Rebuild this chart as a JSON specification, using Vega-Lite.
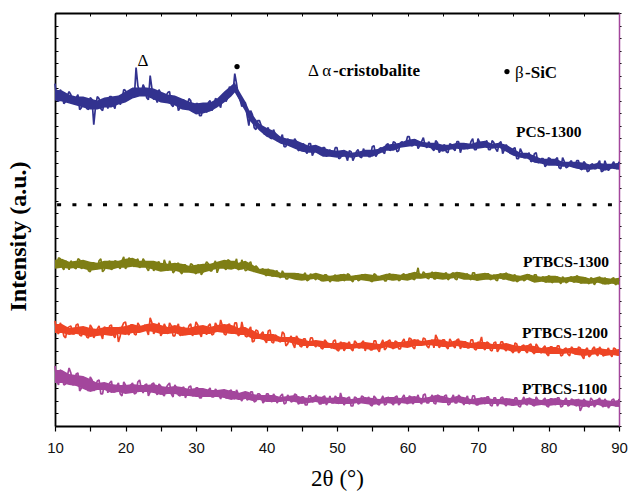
{
"$schema": "https://vega.github.io/schema/vega-lite/v6.json",
"width": 564, "height": 413,
"autosize": {"type": "none"},
"padding": {"left": 55, "top": 13, "right": 10, "bottom": 67},
"background": "white",
"config": {"view": {"stroke": null}, "axis": {"grid": false}},
"datasets": {
"xrd": [
{"x":10,"a":342,"b":159,"c":105,"d":60},{"x":10.5,"a":324,"b":168,"c":92,"d":41},{"x":11,"a":332,"b":159,"c":99,"d":54},{"x":11.5,"a":324,"b":165,"c":88,"d":42},{"x":12,"a":334,"b":156,"c":99,"d":58},{"x":12.5,"a":323,"b":162,"c":92,"d":41},{"x":13,"a":328,"b":157,"c":101,"d":52},{"x":13.5,"a":316,"b":166,"c":91,"d":35},{"x":14,"a":325,"b":159,"c":96,"d":49},{"x":14.5,"a":317,"b":163,"c":89,"d":38},
{"x":15,"a":328,"b":154,"c":101,"d":49},{"x":15.5,"a":301,"b":163,"c":88,"d":35},{"x":16,"a":329,"b":157,"c":97,"d":45},{"x":16.5,"a":317,"b":167,"c":92,"d":32},{"x":17,"a":323,"b":156,"c":99,"d":42},{"x":17.5,"a":317,"b":163,"c":91,"d":33},{"x":18,"a":329,"b":156,"c":101,"d":45},{"x":18.5,"a":317,"b":165,"c":88,"d":34},{"x":19,"a":329,"b":159,"c":84,"d":43},{"x":19.5,"a":326,"b":165,"c":99,"d":30},
{"x":20,"a":335,"b":157,"c":104,"d":41},{"x":20.5,"a":326,"b":168,"c":91,"d":34},{"x":21,"a":336,"b":161,"c":101,"d":43},{"x":21.5,"a":358,"b":165,"c":91,"d":33},{"x":22,"a":333,"b":158,"c":100,"d":46},{"x":22.5,"a":341,"b":167,"c":96,"d":33},{"x":23,"a":328,"b":158,"c":96,"d":42},{"x":23.5,"a":350,"b":161,"c":108,"d":34},{"x":24,"a":326,"b":155,"c":92,"d":43},{"x":24.5,"a":323,"b":163,"c":99,"d":31},
{"x":25,"a":332,"b":156,"c":90,"d":40},{"x":25.5,"a":327,"b":166,"c":102,"d":30},{"x":26,"a":333,"b":155,"c":92,"d":41},{"x":26.5,"a":321,"b":160,"c":100,"d":32},{"x":27,"a":328,"b":155,"c":90,"d":41},{"x":27.5,"a":315,"b":163,"c":102,"d":31},{"x":28,"a":324,"b":152,"c":94,"d":38},{"x":28.5,"a":318,"b":161,"c":91,"d":28},{"x":29,"a":327,"b":155,"c":100,"d":39},{"x":29.5,"a":314,"b":161,"c":90,"d":30},
{"x":30,"a":322,"b":152,"c":104,"d":38},{"x":30.5,"a":310,"b":160,"c":93,"d":28},{"x":31,"a":318,"b":154,"c":98,"d":36},{"x":31.5,"a":313,"b":164,"c":91,"d":31},{"x":32,"a":325,"b":155,"c":102,"d":38},{"x":32.5,"a":318,"b":161,"c":92,"d":29},{"x":33,"a":326,"b":153,"c":100,"d":35},{"x":33.5,"a":318,"b":163,"c":106,"d":27},{"x":34,"a":331,"b":158,"c":92,"d":36},{"x":34.5,"a":328,"b":166,"c":101,"d":28},
{"x":35,"a":336,"b":158,"c":94,"d":36},{"x":35.5,"a":352,"b":162,"c":103,"d":27},{"x":36,"a":330,"b":156,"c":90,"d":32},{"x":36.5,"a":319,"b":166,"c":104,"d":25},{"x":37,"a":323,"b":155,"c":90,"d":34},{"x":37.5,"a":300,"b":162,"c":96,"d":27},{"x":38,"a":311,"b":157,"c":84,"d":34},{"x":38.5,"a":296,"b":160,"c":96,"d":25},{"x":39,"a":305,"b":153,"c":88,"d":32},{"x":39.5,"a":294,"b":157,"c":94,"d":23},
{"x":40,"a":296,"b":150,"c":83,"d":32},{"x":40.5,"a":288,"b":154,"c":96,"d":26},{"x":41,"a":296,"b":150,"c":83,"d":32},{"x":41.5,"a":285,"b":155,"c":89,"d":23},{"x":42,"a":287,"b":148,"c":84,"d":30},{"x":42.5,"a":279,"b":152,"c":92,"d":22},{"x":43,"a":287,"b":147,"c":82,"d":31},{"x":43.5,"a":280,"b":152,"c":90,"d":24},{"x":44,"a":287,"b":148,"c":78,"d":32},{"x":44.5,"a":275,"b":152,"c":87,"d":22},
{"x":45,"a":281,"b":147,"c":79,"d":29},{"x":45.5,"a":275,"b":153,"c":87,"d":21},{"x":46,"a":282,"b":146,"c":81,"d":30},{"x":46.5,"a":270,"b":150,"c":88,"d":24},{"x":47,"a":278,"b":146,"c":79,"d":31},{"x":47.5,"a":273,"b":150,"c":84,"d":22},{"x":48,"a":278,"b":146,"c":77,"d":29},{"x":48.5,"a":269,"b":151,"c":84,"d":21},{"x":49,"a":276,"b":144,"c":79,"d":30},{"x":49.5,"a":271,"b":149,"c":85,"d":23},
{"x":50,"a":278,"b":146,"c":76,"d":28},{"x":50.5,"a":268,"b":151,"c":84,"d":33},{"x":51,"a":274,"b":145,"c":75,"d":21},{"x":51.5,"a":265,"b":152,"c":82,"d":28},{"x":52,"a":274,"b":146,"c":77,"d":20},{"x":52.5,"a":269,"b":149,"c":85,"d":29},{"x":53,"a":276,"b":145,"c":78,"d":22},{"x":53.5,"a":268,"b":151,"c":83,"d":30},{"x":54,"a":273,"b":146,"c":75,"d":23},{"x":54.5,"a":269,"b":150,"c":82,"d":29},
{"x":55,"a":279,"b":144,"c":76,"d":20},{"x":55.5,"a":269,"b":151,"c":85,"d":28},{"x":56,"a":277,"b":147,"c":74,"d":21},{"x":56.5,"a":274,"b":150,"c":86,"d":30},{"x":57,"a":281,"b":145,"c":78,"d":22},{"x":57.5,"a":275,"b":152,"c":86,"d":27},{"x":58,"a":284,"b":147,"c":77,"d":21},{"x":58.5,"a":274,"b":150,"c":84,"d":30},{"x":59,"a":283,"b":146,"c":77,"d":23},{"x":59.5,"a":280,"b":152,"c":87,"d":31},
{"x":60,"a":289,"b":147,"c":80,"d":22},{"x":60.5,"a":280,"b":151,"c":87,"d":29},{"x":61,"a":286,"b":146,"c":77,"d":24},{"x":61.5,"a":277,"b":158,"c":86,"d":31},{"x":62,"a":284,"b":149,"c":81,"d":22},{"x":62.5,"a":280,"b":152,"c":87,"d":32},{"x":63,"a":284,"b":147,"c":78,"d":23},{"x":63.5,"a":277,"b":154,"c":86,"d":31},{"x":64,"a":285,"b":147,"c":91,"d":22},{"x":64.5,"a":273,"b":151,"c":78,"d":30},
{"x":65,"a":280,"b":148,"c":86,"d":25},{"x":65.5,"a":274,"b":153,"c":79,"d":31},{"x":66,"a":282,"b":148,"c":87,"d":22},{"x":66.5,"a":277,"b":153,"c":80,"d":31},{"x":67,"a":284,"b":146,"c":86,"d":23},{"x":67.5,"a":273,"b":152,"c":77,"d":29},{"x":68,"a":281,"b":149,"c":84,"d":21},{"x":68.5,"a":277,"b":152,"c":78,"d":30},{"x":69,"a":284,"b":146,"c":86,"d":23},{"x":69.5,"a":276,"b":153,"c":77,"d":30},
{"x":70,"a":287,"b":146,"c":84,"d":21},{"x":70.5,"a":279,"b":150,"c":89,"d":28},{"x":71,"a":283,"b":147,"c":76,"d":22},{"x":71.5,"a":276,"b":152,"c":83,"d":29},{"x":72,"a":285,"b":148,"c":75,"d":20},{"x":72.5,"a":277,"b":146,"c":84,"d":28},{"x":73,"a":282,"b":151,"c":77,"d":23},{"x":73.5,"a":272,"b":147,"c":84,"d":29},{"x":74,"a":281,"b":153,"c":75,"d":20},{"x":74.5,"a":273,"b":148,"c":81,"d":27},
{"x":75,"a":277,"b":150,"c":73,"d":21},{"x":75.5,"a":267,"b":144,"c":82,"d":28},{"x":76,"a":277,"b":149,"c":75,"d":19},{"x":76.5,"a":268,"b":145,"c":81,"d":29},{"x":77,"a":270,"b":151,"c":73,"d":21},{"x":77.5,"a":264,"b":146,"c":82,"d":27},{"x":78,"a":272,"b":151,"c":72,"d":20},{"x":78.5,"a":263,"b":145,"c":79,"d":26},{"x":79,"a":267,"b":148,"c":73,"d":22},{"x":79.5,"a":259,"b":144,"c":80,"d":28},
{"x":80,"a":268,"b":150,"c":70,"d":19},{"x":80.5,"a":262,"b":143,"c":79,"d":27},{"x":81,"a":266,"b":148,"c":73,"d":21},{"x":81.5,"a":258,"b":145,"c":80,"d":28},{"x":82,"a":268,"b":149,"c":71,"d":20},{"x":82.5,"a":258,"b":143,"c":78,"d":28},{"x":83,"a":263,"b":148,"c":70,"d":21},{"x":83.5,"a":259,"b":144,"c":77,"d":26},{"x":84,"a":265,"b":150,"c":72,"d":20},{"x":84.5,"a":257,"b":143,"c":78,"d":15},
{"x":85,"a":264,"b":147,"c":67,"d":27},{"x":85.5,"a":254,"b":144,"c":78,"d":20},{"x":86,"a":261,"b":148,"c":71,"d":28},{"x":86.5,"a":257,"b":141,"c":79,"d":19},{"x":87,"a":262,"b":147,"c":70,"d":26},{"x":87.5,"a":254,"b":144,"c":76,"d":21},{"x":88,"a":265,"b":148,"c":71,"d":27},{"x":88.5,"a":255,"b":142,"c":78,"d":18},{"x":89,"a":261,"b":147,"c":69,"d":26},{"x":89.5,"a":258,"b":141,"c":77,"d":20},
{"x":90,"a":264,"b":146,"c":72,"d":27},
{"x":10.25,"a":327,"b":159,"c":94,"d":45},{"x":10.75,"a":336,"b":167,"c":103,"d":56},{"x":11.25,"a":322,"b":156,"c":90,"d":41},{"x":11.75,"a":330,"b":163,"c":98,"d":50},{"x":12.25,"a":331,"b":165,"c":100,"d":53},{"x":12.75,"a":322,"b":158,"c":92,"d":42},{"x":13.25,"a":331,"b":167,"c":102,"d":53},{"x":13.75,"a":318,"b":157,"c":90,"d":38},{"x":14.25,"a":324,"b":162,"c":96,"d":44},{"x":14.75,"a":316,"b":155,"c":88,"d":35},
{"x":15.25,"a":326,"b":163,"c":98,"d":46},{"x":15.75,"a":319,"b":158,"c":92,"d":39},{"x":16.25,"a":327,"b":165,"c":100,"d":46},{"x":16.75,"a":315,"b":154,"c":87,"d":32},{"x":17.25,"a":326,"b":164,"c":98,"d":42},{"x":17.75,"a":329,"b":165,"c":100,"d":43},{"x":18.25,"a":321,"b":158,"c":91,"d":34},{"x":18.75,"a":328,"b":164,"c":98,"d":40},{"x":19.25,"a":321,"b":157,"c":90,"d":32},{"x":19.75,"a":336,"b":169,"c":103,"d":44},
{"x":20.25,"a":327,"b":160,"c":93,"d":34},{"x":20.75,"a":336,"b":166,"c":101,"d":41},{"x":21.25,"a":328,"b":159,"c":92,"d":32},{"x":21.75,"a":340,"b":167,"c":103,"d":44},{"x":22.25,"a":333,"b":161,"c":96,"d":37},{"x":22.75,"a":337,"b":164,"c":101,"d":41},{"x":23.25,"a":326,"b":155,"c":91,"d":30},{"x":23.75,"a":337,"b":164,"c":103,"d":42},{"x":24.25,"a":329,"b":158,"c":95,"d":35},{"x":24.75,"a":336,"b":164,"c":103,"d":42},
{"x":25.25,"a":325,"b":156,"c":93,"d":32},{"x":25.75,"a":330,"b":161,"c":98,"d":38},{"x":26.25,"a":334,"b":165,"c":103,"d":43},{"x":26.75,"a":319,"b":153,"c":90,"d":29},{"x":27.25,"a":327,"b":161,"c":98,"d":38},{"x":27.75,"a":318,"b":154,"c":90,"d":30},{"x":28.25,"a":326,"b":161,"c":99,"d":39},{"x":28.75,"a":320,"b":157,"c":94,"d":33},{"x":29.25,"a":325,"b":162,"c":102,"d":40},{"x":29.75,"a":315,"b":154,"c":93,"d":31},
{"x":30.25,"a":322,"b":161,"c":101,"d":38},{"x":30.75,"a":310,"b":151,"c":89,"d":28},{"x":31.25,"a":320,"b":160,"c":98,"d":34},{"x":31.75,"a":323,"b":162,"c":100,"d":36},{"x":32.25,"a":315,"b":155,"c":91,"d":29},{"x":32.75,"a":327,"b":165,"c":103,"d":37},{"x":33.25,"a":322,"b":158,"c":95,"d":31},{"x":33.75,"a":330,"b":164,"c":100,"d":34},{"x":34.25,"a":324,"b":156,"c":91,"d":28},{"x":34.75,"a":339,"b":165,"c":102,"d":35},
{"x":35.25,"a":333,"b":158,"c":93,"d":28},{"x":35.75,"a":342,"b":167,"c":103,"d":36},{"x":36.25,"a":326,"b":157,"c":92,"d":28},{"x":36.75,"a":323,"b":161,"c":96,"d":31},{"x":37.25,"a":310,"b":156,"c":89,"d":26},{"x":37.75,"a":315,"b":164,"c":99,"d":34},{"x":38.25,"a":298,"b":154,"c":85,"d":24},{"x":38.75,"a":305,"b":158,"c":95,"d":32},{"x":39.25,"a":300,"b":156,"c":92,"d":30},{"x":39.75,"a":291,"b":152,"c":86,"d":25},
{"x":40.25,"a":298,"b":157,"c":95,"d":32},{"x":40.75,"a":287,"b":150,"c":84,"d":24},{"x":41.25,"a":291,"b":154,"c":91,"d":29},{"x":41.75,"a":285,"b":150,"c":85,"d":26},{"x":42.25,"a":291,"b":155,"c":94,"d":32},{"x":42.75,"a":279,"b":147,"c":80,"d":23},{"x":43.25,"a":284,"b":151,"c":87,"d":28},{"x":43.75,"a":280,"b":148,"c":82,"d":25},{"x":44.25,"a":284,"b":152,"c":90,"d":31},{"x":44.75,"a":276,"b":147,"c":80,"d":23},
{"x":45.25,"a":282,"b":151,"c":87,"d":29},{"x":45.75,"a":272,"b":145,"c":78,"d":21},{"x":46.25,"a":282,"b":152,"c":88,"d":30},{"x":46.75,"a":274,"b":148,"c":81,"d":25},{"x":47.25,"a":278,"b":151,"c":84,"d":28},{"x":47.75,"a":271,"b":145,"c":78,"d":22},{"x":48.25,"a":278,"b":151,"c":86,"d":30},{"x":48.75,"a":273,"b":147,"c":80,"d":25},{"x":49.25,"a":270,"b":146,"c":78,"d":23},{"x":49.75,"a":278,"b":151,"c":86,"d":30},
{"x":50.25,"a":267,"b":145,"c":75,"d":22},{"x":50.75,"a":274,"b":150,"c":82,"d":27},{"x":51.25,"a":270,"b":147,"c":78,"d":24},{"x":51.75,"a":275,"b":151,"c":84,"d":29},{"x":52.25,"a":265,"b":144,"c":75,"d":20},{"x":52.75,"a":274,"b":150,"c":83,"d":28},{"x":53.25,"a":269,"b":146,"c":78,"d":23},{"x":53.75,"a":277,"b":151,"c":85,"d":29},{"x":54.25,"a":274,"b":149,"c":81,"d":26},{"x":54.75,"a":269,"b":145,"c":76,"d":21},
{"x":55.25,"a":280,"b":152,"c":85,"d":30},{"x":55.75,"a":272,"b":146,"c":77,"d":22},{"x":56.25,"a":278,"b":149,"c":82,"d":26},{"x":56.75,"a":272,"b":145,"c":76,"d":21},{"x":57.25,"a":282,"b":151,"c":85,"d":29},{"x":57.75,"a":277,"b":146,"c":79,"d":23},{"x":58.25,"a":283,"b":151,"c":85,"d":29},{"x":58.75,"a":275,"b":145,"c":77,"d":21},{"x":59.25,"a":284,"b":151,"c":84,"d":28},{"x":59.75,"a":282,"b":148,"c":81,"d":25},
{"x":60.25,"a":289,"b":152,"c":88,"d":30},{"x":60.75,"a":280,"b":147,"c":79,"d":22},{"x":61.25,"a":285,"b":151,"c":85,"d":27},{"x":61.75,"a":280,"b":148,"c":81,"d":24},{"x":62.25,"a":288,"b":154,"c":88,"d":31},{"x":62.75,"a":278,"b":148,"c":80,"d":23},{"x":63.25,"a":281,"b":151,"c":84,"d":27},{"x":63.75,"a":275,"b":147,"c":78,"d":23},{"x":64.25,"a":283,"b":153,"c":87,"d":31},{"x":64.75,"a":276,"b":149,"c":81,"d":26},
{"x":65.25,"a":281,"b":152,"c":86,"d":30},{"x":65.75,"a":273,"b":146,"c":77,"d":21},{"x":66.25,"a":281,"b":152,"c":84,"d":27},{"x":66.75,"a":275,"b":147,"c":78,"d":23},{"x":67.25,"a":284,"b":153,"c":87,"d":31},{"x":67.75,"a":279,"b":149,"c":81,"d":25},{"x":68.25,"a":282,"b":151,"c":84,"d":27},{"x":68.75,"a":278,"b":148,"c":78,"d":22},{"x":69.25,"a":287,"b":153,"c":86,"d":30},{"x":69.75,"a":276,"b":146,"c":76,"d":21},
{"x":70.25,"a":283,"b":151,"c":83,"d":27},{"x":70.75,"a":279,"b":148,"c":78,"d":24},{"x":71.25,"a":285,"b":152,"c":84,"d":29},{"x":71.75,"a":276,"b":146,"c":76,"d":21},{"x":72.25,"a":283,"b":151,"c":83,"d":28},{"x":72.75,"a":274,"b":145,"c":74,"d":20},{"x":73.25,"a":284,"b":152,"c":84,"d":28},{"x":73.75,"a":276,"b":147,"c":77,"d":22},{"x":74.25,"a":277,"b":150,"c":80,"d":25},{"x":74.75,"a":272,"b":146,"c":75,"d":21},
{"x":75.25,"a":278,"b":151,"c":83,"d":28},{"x":75.75,"a":267,"b":145,"c":73,"d":20},{"x":76.25,"a":273,"b":149,"c":80,"d":25},{"x":76.75,"a":268,"b":146,"c":75,"d":22},{"x":77.25,"a":273,"b":151,"c":81,"d":28},{"x":77.75,"a":265,"b":145,"c":74,"d":21},{"x":78.25,"a":273,"b":151,"c":82,"d":29},{"x":78.75,"a":264,"b":146,"c":74,"d":23},{"x":79.25,"a":267,"b":149,"c":78,"d":26},{"x":79.75,"a":261,"b":144,"c":72,"d":20},
{"x":80.25,"a":267,"b":149,"c":79,"d":27},{"x":80.75,"a":263,"b":145,"c":74,"d":23},{"x":81.25,"a":268,"b":149,"c":80,"d":28},{"x":81.75,"a":257,"b":142,"c":70,"d":19},{"x":82.25,"a":264,"b":147,"c":77,"d":25},{"x":82.75,"a":259,"b":144,"c":72,"d":20},{"x":83.25,"a":265,"b":149,"c":79,"d":27},{"x":83.75,"a":259,"b":144,"c":72,"d":21},{"x":84.25,"a":265,"b":149,"c":79,"d":27},{"x":84.75,"a":256,"b":143,"c":70,"d":19},
{"x":85.25,"a":262,"b":148,"c":76,"d":25},{"x":85.75,"a":255,"b":142,"c":69,"d":19},{"x":86.25,"a":262,"b":147,"c":77,"d":26},{"x":86.75,"a":257,"b":144,"c":72,"d":22},{"x":87.25,"a":265,"b":149,"c":79,"d":28},{"x":87.75,"a":255,"b":142,"c":70,"d":19},{"x":88.25,"a":260,"b":146,"c":75,"d":24},{"x":88.75,"a":258,"b":143,"c":72,"d":21},{"x":89.25,"a":264,"b":148,"c":78,"d":27},{"x":89.75,"a":257,"b":143,"c":71,"d":20}
],
"env": [
{"x":10,"ah":336,"al":325,"bh":166,"bl":157,"ch":102,"cl":93,"dh":56,"dl":43},
{"x":11,"ah":335,"al":324,"bh":167,"bl":158,"ch":102,"cl":93,"dh":56,"dl":43},
{"x":12,"ah":331,"al":322,"bh":164,"bl":157,"ch":98,"cl":91,"dh":52,"dl":41},
{"x":13,"ah":329,"al":320,"bh":165,"bl":158,"ch":99,"cl":92,"dh":51,"dl":40},
{"x":14,"ah":329,"al":318,"bh":166,"bl":157,"ch":100,"cl":91,"dh":50,"dl":37},
{"x":15,"ah":327,"al":316,"bh":164,"bl":155,"ch":98,"cl":89,"dh":47,"dl":34},
{"x":16,"ah":325,"al":316,"bh":163,"bl":156,"ch":97,"cl":90,"dh":43,"dl":36},
{"x":17,"ah":328,"al":318,"bh":165,"bl":157,"ch":99,"cl":91,"dh":44,"dl":36},
{"x":18,"ah":329,"al":318,"bh":165,"bl":156,"ch":99,"cl":90,"dh":42,"dl":33},
{"x":19,"ah":330,"al":321,"bh":165,"bl":158,"ch":99,"cl":92,"dh":41,"dl":34},
{"x":20,"ah":334,"al":323,"bh":167,"bl":158,"ch":100,"cl":91,"dh":41,"dl":32},
{"x":21,"ah":338,"al":327,"bh":168,"bl":159,"ch":102,"cl":93,"dh":42,"dl":33},
{"x":22,"ah":338,"al":329,"bh":165,"bl":158,"ch":100,"cl":93,"dh":41,"dl":34},
{"x":23,"ah":338,"al":329,"bh":165,"bl":158,"ch":102,"cl":95,"dh":41,"dl":34},
{"x":24,"ah":337,"al":326,"bh":165,"bl":156,"ch":103,"cl":94,"dh":42,"dl":33},
{"x":25,"ah":334,"al":323,"bh":163,"bl":154,"ch":101,"cl":92,"dh":40,"dl":31},
{"x":26,"ah":331,"al":322,"bh":162,"bl":155,"ch":99,"cl":92,"dh":39,"dl":32},
{"x":27,"ah":330,"al":320,"bh":163,"bl":155,"ch":101,"cl":93,"dh":40,"dl":32},
{"x":28,"ah":327,"al":316,"bh":162,"bl":153,"ch":99,"cl":90,"dh":39,"dl":30},
{"x":29,"ah":324,"al":315,"bh":160,"bl":153,"ch":98,"cl":91,"dh":37,"dl":30},
{"x":30,"ah":322,"al":311,"bh":161,"bl":152,"ch":100,"cl":91,"dh":38,"dl":29},
{"x":31,"ah":323,"al":312,"bh":162,"bl":153,"ch":101,"cl":92,"dh":38,"dl":29},
{"x":32,"ah":323,"al":314,"bh":162,"bl":155,"ch":99,"cl":92,"dh":36,"dl":29},
{"x":33,"ah":327,"al":318,"bh":164,"bl":157,"ch":101,"cl":94,"dh":36,"dl":29},
{"x":34,"ah":334,"al":323,"bh":166,"bl":157,"ch":102,"cl":93,"dh":37,"dl":28},
{"x":35,"ah":340,"al":329,"bh":165,"bl":156,"ch":101,"cl":92,"dh":35,"dl":26},
{"x":35.5,"ah":343,"al":333,"bh":165,"bl":157,"ch":100,"cl":92,"dh":35,"dl":27},
{"x":36,"ah":336,"al":327,"bh":163,"bl":156,"ch":98,"cl":91,"dh":33,"dl":26},
{"x":36.5,"ah":330,"al":320,"bh":164,"bl":156,"ch":99,"cl":91,"dh":34,"dl":26},
{"x":37,"ah":324,"al":314,"bh":165,"bl":157,"ch":99,"cl":91,"dh":35,"dl":27},
{"x":37.5,"ah":316,"al":306,"bh":163,"bl":155,"ch":97,"cl":89,"dh":34,"dl":26},
{"x":38,"ah":311,"al":302,"bh":161,"bl":154,"ch":96,"cl":87,"dh":32,"dl":25},
{"x":39,"ah":302,"al":295,"bh":157,"bl":152,"ch":92,"cl":87,"dh":31,"dl":26},
{"x":40,"ah":298,"al":289,"bh":157,"bl":150,"ch":92,"cl":85,"dh":31,"dl":24},
{"x":41,"ah":295,"al":286,"bh":156,"bl":149,"ch":92,"cl":85,"dh":31,"dl":24},
{"x":42,"ah":289,"al":282,"bh":153,"bl":148,"ch":89,"cl":84,"dh":29,"dl":24},
{"x":43,"ah":287,"al":280,"bh":153,"bl":148,"ch":89,"cl":84,"dh":30,"dl":25},
{"x":44,"ah":286,"al":277,"bh":153,"bl":146,"ch":89,"cl":82,"dh":31,"dl":24},
{"x":45,"ah":283,"al":274,"bh":152,"bl":145,"ch":87,"cl":80,"dh":29,"dl":22},
{"x":46,"ah":280,"al":273,"bh":151,"bl":146,"ch":85,"cl":80,"dh":28,"dl":23},
{"x":47,"ah":281,"al":273,"bh":153,"bl":147,"ch":86,"cl":80,"dh":30,"dl":24},
{"x":48,"ah":278,"al":269,"bh":151,"bl":144,"ch":85,"cl":78,"dh":29,"dl":22},
{"x":49,"ah":276,"al":269,"bh":150,"bl":145,"ch":83,"cl":78,"dh":28,"dl":23},
{"x":50,"ah":275,"al":268,"bh":151,"bl":144,"ch":83,"cl":76,"dh":29,"dl":22},
{"x":51,"ah":276,"al":269,"bh":152,"bl":145,"ch":84,"cl":77,"dh":29,"dl":22},
{"x":52,"ah":273,"al":268,"bh":150,"bl":145,"ch":82,"cl":77,"dh":27,"dl":22},
{"x":53,"ah":274,"al":269,"bh":151,"bl":146,"ch":83,"cl":78,"dh":28,"dl":23},
{"x":54,"ah":276,"al":269,"bh":152,"bl":145,"ch":84,"cl":77,"dh":29,"dl":22},
{"x":55,"ah":276,"al":269,"bh":151,"bl":144,"ch":83,"cl":76,"dh":28,"dl":21},
{"x":56,"ah":277,"al":272,"bh":150,"bl":145,"ch":82,"cl":77,"dh":27,"dl":22},
{"x":57,"ah":281,"al":275,"bh":152,"bl":146,"ch":85,"cl":79,"dh":29,"dl":23},
{"x":58,"ah":282,"al":275,"bh":152,"bl":145,"ch":84,"cl":77,"dh":29,"dl":22},
{"x":59,"ah":283,"al":278,"bh":151,"bl":146,"ch":84,"cl":79,"dh":28,"dl":23},
{"x":60,"ah":286,"al":279,"bh":152,"bl":145,"ch":85,"cl":78,"dh":29,"dl":22},
{"x":61,"ah":287,"al":280,"bh":154,"bl":147,"ch":87,"cl":80,"dh":30,"dl":23},
{"x":62,"ah":284,"al":279,"bh":152,"bl":147,"ch":85,"cl":80,"dh":28,"dl":23},
{"x":63,"ah":283,"al":278,"bh":153,"bl":148,"ch":86,"cl":81,"dh":29,"dl":24},
{"x":64,"ah":283,"al":276,"bh":154,"bl":147,"ch":87,"cl":80,"dh":31,"dl":24},
{"x":65,"ah":281,"al":274,"bh":153,"bl":146,"ch":86,"cl":79,"dh":30,"dl":23},
{"x":66,"ah":281,"al":276,"bh":152,"bl":147,"ch":84,"cl":79,"dh":28,"dl":23},
{"x":67,"ah":283,"al":277,"bh":154,"bl":148,"ch":86,"cl":80,"dh":30,"dl":24},
{"x":68,"ah":283,"al":276,"bh":153,"bl":146,"ch":85,"cl":78,"dh":29,"dl":22},
{"x":69,"ah":282,"al":277,"bh":151,"bl":146,"ch":83,"cl":78,"dh":27,"dl":22},
{"x":70,"ah":284,"al":277,"bh":152,"bl":145,"ch":84,"cl":77,"dh":28,"dl":21},
{"x":71,"ah":285,"al":278,"bh":153,"bl":146,"ch":84,"cl":77,"dh":29,"dl":22},
{"x":72,"ah":282,"al":277,"bh":151,"bl":146,"ch":82,"cl":77,"dh":27,"dl":22},
{"x":73,"ah":283,"al":278,"bh":152,"bl":147,"ch":82,"cl":77,"dh":27,"dl":22},
{"x":74,"ah":281,"al":274,"bh":153,"bl":146,"ch":83,"cl":76,"dh":28,"dl":21},
{"x":75,"ah":277,"al":270,"bh":151,"bl":144,"ch":81,"cl":74,"dh":27,"dl":20},
{"x":76,"ah":273,"al":268,"bh":150,"bl":145,"ch":80,"cl":75,"dh":26,"dl":21},
{"x":77,"ah":273,"al":267,"bh":152,"bl":146,"ch":81,"cl":75,"dh":28,"dl":22},
{"x":78,"ah":270,"al":263,"bh":150,"bl":143,"ch":80,"cl":73,"dh":27,"dl":20},
{"x":79,"ah":267,"al":262,"bh":149,"bl":144,"ch":78,"cl":73,"dh":26,"dl":21},
{"x":80,"ah":267,"al":260,"bh":150,"bl":143,"ch":79,"cl":72,"dh":27,"dl":20},
{"x":81,"ah":267,"al":260,"bh":150,"bl":143,"ch":79,"cl":72,"dh":28,"dl":21},
{"x":82,"ah":264,"al":259,"bh":148,"bl":143,"ch":77,"cl":72,"dh":26,"dl":21},
{"x":83,"ah":264,"al":259,"bh":149,"bl":144,"ch":78,"cl":73,"dh":26,"dl":21},
{"x":84,"ah":264,"al":257,"bh":150,"bl":143,"ch":78,"cl":71,"dh":27,"dl":20},
{"x":85,"ah":263,"al":256,"bh":149,"bl":142,"ch":77,"cl":70,"dh":26,"dl":19},
{"x":86,"ah":261,"al":256,"bh":147,"bl":142,"ch":76,"cl":71,"dh":25,"dl":20},
{"x":87,"ah":263,"al":257,"bh":149,"bl":143,"ch":78,"cl":72,"dh":27,"dl":21},
{"x":88,"ah":262,"al":255,"bh":148,"bl":141,"ch":77,"cl":70,"dh":26,"dl":19},
{"x":89,"ah":262,"al":257,"bh":147,"bl":142,"ch":76,"cl":71,"dh":25,"dl":20},
{"x":90,"ah":263,"al":256,"bh":148,"bl":141,"ch":77,"cl":70,"dh":26,"dl":19}
],
"dots": [{"x": 10.3, "x2": 89.15, "y": 221}],
"names": [{"x": 75.39, "y": 289, "t": "PCS-1300"}, {"x": 76.38, "y": 159, "t": "PTBCS-1300"}, {"x": 76.24, "y": 88, "t": "PTBCS-1200"}, {"x": 76.24, "y": 32, "t": "PTBCS-1100"}],
"legbold": [{"x": 49.45, "y": 350, "t": "-cristobalite"}, {"x": 76.67, "y": 348, "t": "-SiC"}],
"legreg": [{"x": 45.89, "y": 350, "t": "Δ α"}, {"x": 75.25, "y": 348, "t": "β"}],
"peak": [{"x": 22.48, "y": 360, "t": "Δ"}],
"bullets": [{"x": 35.82, "y": 359}, {"x": 74.11, "y": 354}]
},
"layer": [
{
"data": {"name": "xrd"},
"transform": [{"fold": ["a", "b", "c", "d"], "as": ["s", "v"]}],
"mark": {"type": "line", "strokeWidth": 1.7, "strokeJoin": "bevel"},
"encoding": {
"x": {"field": "x", "type": "quantitative", "scale": {"domain": [10, 90], "nice": false, "zero": false},
"axis": {"orient": "bottom", "values": [10,15,20,25,30,35,40,45,50,55,60,65,70,75,80,85,90], "labelExpr": "datum.value % 10 === 0 ? datum.label : ''", "tickSize": 5, "tickWidth": 1.2, "tickColor": "black", "domainColor": "black", "domainWidth": 1.8, "labelFont": "Liberation Sans", "labelFontSize": 15, "labelColor": "#111", "labelPadding": 9, "labelOverlap": false, "labelFlush": false, "title": "2θ (°)", "titleFont": "Liberation Serif", "titleFontSize": 23, "titleFontWeight": "normal", "titleColor": "black", "titlePadding": 12}},
"y": {"field": "v", "type": "quantitative", "scale": {"domain": [0, 412.5], "nice": false, "zero": false},
"axis": {"orient": "left", "values": [0,12.5,25,37.5,50,62.5,75,87.5,100,112.5,125,137.5,150,162.5,175,187.5,200,212.5,225,237.5,250,262.5,275,287.5,300,312.5,325,337.5,350,362.5,375,387.5,400,412.5], "labels": false, "tickSize": -3, "tickColor": "black", "domainColor": "black", "domainWidth": 1.8, "title": "Intensity (a.u.)", "titleFont": "Liberation Serif", "titleFontSize": 24, "titleFontWeight": "bold", "titleColor": "black", "titlePadding": 24, "titleY": 223}},
"color": {"field": "s", "type": "nominal", "scale": {"domain": ["a", "b", "c", "d"], "range": ["#32328F", "#7E7E14", "#EE4424", "#A3469C"]}, "legend": null}
}
},
{
"data": {"name": "env"},
"mark": {"type": "area", "color": "#32328F", "opacity": 1},
"encoding": {
"x": {"field": "x", "type": "quantitative", "scale": {"domain": [10, 90]}, "axis": null},
"y": {"field": "ah", "type": "quantitative", "scale": {"domain": [0, 412.5]}, "axis": null},
"y2": {"field": "al"}
}
},
{
"data": {"name": "env"},
"mark": {"type": "area", "color": "#7E7E14", "opacity": 1},
"encoding": {
"x": {"field": "x", "type": "quantitative", "scale": {"domain": [10, 90]}, "axis": null},
"y": {"field": "bh", "type": "quantitative", "scale": {"domain": [0, 412.5]}, "axis": null},
"y2": {"field": "bl"}
}
},
{
"data": {"name": "env"},
"mark": {"type": "area", "color": "#EE4424", "opacity": 1},
"encoding": {
"x": {"field": "x", "type": "quantitative", "scale": {"domain": [10, 90]}, "axis": null},
"y": {"field": "ch", "type": "quantitative", "scale": {"domain": [0, 412.5]}, "axis": null},
"y2": {"field": "cl"}
}
},
{
"data": {"name": "env"},
"mark": {"type": "area", "color": "#A3469C", "opacity": 1},
"encoding": {
"x": {"field": "x", "type": "quantitative", "scale": {"domain": [10, 90]}, "axis": null},
"y": {"field": "dh", "type": "quantitative", "scale": {"domain": [0, 412.5]}, "axis": null},
"y2": {"field": "dl"}
}
},
{
"data": {"name": "dots"},
"mark": {"type": "rule", "strokeWidth": 3, "strokeDash": [4, 11.3], "color": "black"},
"encoding": {
"x": {"field": "x", "type": "quantitative", "scale": {"domain": [10, 90], "nice": false, "zero": false},
"axis": {"orient": "top", "values": [10,15,20,25,30,35,40,45,50,55,60,65,70,75,80,85,90], "labels": false, "tickSize": -3, "tickColor": "black", "domainColor": "black", "domainWidth": 1.8, "title": null}},
"x2": {"field": "x2"},
"y": {"field": "y", "type": "quantitative", "scale": {"domain": [0, 412.5], "nice": false, "zero": false},
"axis": {"orient": "right", "values": [0,12.5,25,37.5,50,62.5,75,87.5,100,112.5,125,137.5,150,162.5,175,187.5,200,212.5,225,237.5,250,262.5,275,287.5,300,312.5,325,337.5,350,362.5,375,387.5,400,412.5], "labels": false, "tickSize": 2, "tickColor": "black", "domainColor": "#A3469C", "domainWidth": 1.5, "title": null}}
}
},
{
"data": {"name": "names"},
"mark": {"type": "text", "align": "left", "baseline": "alphabetic", "font": "Liberation Serif", "fontSize": 15.5, "fontWeight": "bold", "color": "black"},
"encoding": {
"x": {"field": "x", "type": "quantitative", "scale": {"domain": [10, 90]}, "axis": null},
"y": {"field": "y", "type": "quantitative", "scale": {"domain": [0, 412.5]}, "axis": null},
"text": {"field": "t"}
}
},
{
"data": {"name": "legbold"},
"mark": {"type": "text", "align": "left", "baseline": "alphabetic", "font": "Liberation Serif", "fontSize": 17, "fontWeight": "bold", "color": "black"},
"encoding": {
"x": {"field": "x", "type": "quantitative", "scale": {"domain": [10, 90]}, "axis": null},
"y": {"field": "y", "type": "quantitative", "scale": {"domain": [0, 412.5]}, "axis": null},
"text": {"field": "t"}
}
},
{
"data": {"name": "legreg"},
"mark": {"type": "text", "align": "left", "baseline": "alphabetic", "font": "Liberation Serif", "fontSize": 17, "fontWeight": "normal", "color": "black"},
"encoding": {
"x": {"field": "x", "type": "quantitative", "scale": {"domain": [10, 90]}, "axis": null},
"y": {"field": "y", "type": "quantitative", "scale": {"domain": [0, 412.5]}, "axis": null},
"text": {"field": "t"}
}
},
{
"data": {"name": "peak"},
"mark": {"type": "text", "align": "center", "baseline": "alphabetic", "font": "Liberation Serif", "fontSize": 17, "fontWeight": "normal", "color": "black"},
"encoding": {
"x": {"field": "x", "type": "quantitative", "scale": {"domain": [10, 90]}, "axis": null},
"y": {"field": "y", "type": "quantitative", "scale": {"domain": [0, 412.5]}, "axis": null},
"text": {"field": "t"}
}
},
{
"data": {"name": "bullets"},
"mark": {"type": "point", "shape": "circle", "filled": true, "size": 28, "color": "black", "opacity": 1},
"encoding": {
"x": {"field": "x", "type": "quantitative", "scale": {"domain": [10, 90]}, "axis": null},
"y": {"field": "y", "type": "quantitative", "scale": {"domain": [0, 412.5]}, "axis": null}
}
}
],
"resolve": {"axis": {"x": "independent", "y": "independent"}}
}
